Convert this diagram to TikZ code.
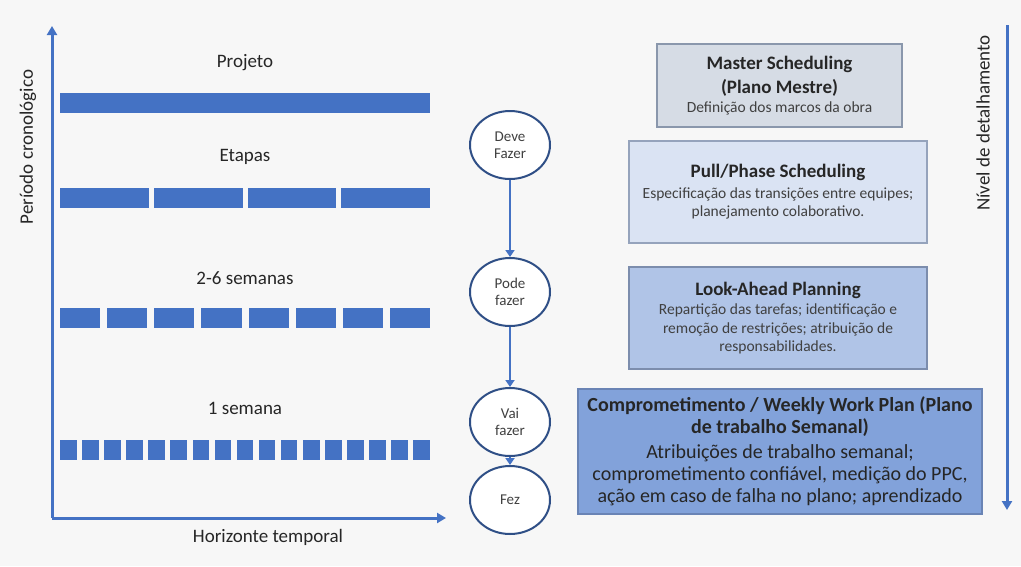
\documentclass[tikz,border=0pt]{standalone}
\usepackage{fontspec}
\setmainfont{Carlito}
\usetikzlibrary{arrows.meta,shapes.geometric}

\definecolor{bgcol}{HTML}{F7F7F7}
\definecolor{barblue}{HTML}{4472C4}
\definecolor{circblue}{HTML}{2F4F86}
\definecolor{labelgray}{HTML}{262626}
\definecolor{subgray}{HTML}{404040}
\definecolor{masterfill}{HTML}{D6DCE5}
\definecolor{masterline}{HTML}{8A97AC}
\definecolor{pullfill}{HTML}{DAE3F3}
\definecolor{pullline}{HTML}{95A3BC}
\definecolor{lookfill}{HTML}{B0C4E7}
\definecolor{lookline}{HTML}{7C8DAD}
\definecolor{weekfill}{HTML}{82A2DA}
\definecolor{weekline}{HTML}{6A84B5}

\newcommand{\boxhead}[1]{{\fontsize{19}{23}\selectfont\bfseries #1}}
\newcommand{\boxbody}[1]{{\color{subgray}#1}}

\begin{document}
\begin{tikzpicture}[x=1pt,y=-1pt,
  axis/.style={barblue, line width=3pt, -{Triangle[length=9pt,width=10pt]}},
  bar/.style={fill=barblue},
  lbl/.style={font=\fontsize{19}{22}\selectfont, text=labelgray},
  stage/.style={ellipse, draw=circblue, line width=2pt, fill=white,
    minimum width=80pt, minimum height=68pt, inner sep=0pt, align=center,
    font=\fontsize{15}{17}\selectfont, text=subgray},
  flow/.style={barblue, line width=2.5pt, -{Triangle[length=7pt,width=9pt]}},
  level/.style={draw, line width=1.3pt, align=center, inner sep=0pt, text=labelgray,
    font=\fontsize{15.5}{18.5}\selectfont}]

  % background
  \fill[bgcol] (0,0) rectangle (1021,566);

  % axes
  \coordinate (orig) at (52,518);
  \coordinate (ytip) at (52,26);
  \coordinate (xtip) at (446,518);
  \draw[axis] (orig) -- (ytip);
  \draw[axis] (orig) -- (xtip);
  \node[lbl, rotate=90] (periodo) at (28,147) {Período cronológico};
  \node[lbl] (horizonte) at (268,537) {Horizonte temporal};

  % horizons
  \node[lbl] (projeto) at (245,63) {Projeto};
  \node[lbl] (etapas) at (245,157) {Etapas};
  \node[lbl] (semanas) at (245,278) {2-6 semanas};
  \node[lbl] (semana) at (245,408) {1 semana};
  \foreach \n/\g/\ya in {1/0/93, 4/5/188, 8/7/308, 17/5.5/440} {
    \pgfmathsetmacro\w{(370-(\n-1)*\g)/\n}
    \foreach \i in {1,...,\n}
      \fill[bar] ({60+(\i-1)*(\w+\g)},\ya) rectangle ++(\w,20);
  }

  % commitment chain
  \node[stage] (deve) at (510,145) {Deve\\Fazer};
  \node[stage] (pode) at (510,292) {Pode\\fazer};
  \node[stage] (vai) at (510,422) {Vai\\fazer};
  \node[stage] (fez) at (510,500) {Fez};
  \draw[flow] (deve) -- (pode);
  \draw[flow] (pode) -- (vai);
  \draw[flow] (vai) -- (fez);

  % planning levels
  \node[level, fill=masterfill, draw=masterline, minimum width=245pt, minimum height=83pt]
    (master) at (779.5,85.5) {\boxhead{Master Scheduling}\\[6pt]\boxhead{(Plano Mestre)}\\
      \boxbody{Definição dos marcos da obra}};
  \node[level, fill=pullfill, draw=pullline, minimum width=298pt, minimum height=102pt]
    (pull) at (778,192) {\boxhead{Pull/Phase Scheduling}\\[2pt]
      \boxbody{Especificação das transições entre equipes;}\\
      \boxbody{planejamento colaborativo.}};
  \node[level, fill=lookfill, draw=lookline, minimum width=298pt, minimum height=102pt]
    (look) at (778,318) {\boxhead{Look-Ahead Planning}\\[1pt]
      \boxbody{Repartição das tarefas; identificação e}\\
      \boxbody{remoção de restrições; atribuição de}\\
      \boxbody{responsabilidades.}};
  \node[level, fill=weekfill, draw=weekline, minimum width=404pt, minimum height=125pt,
    font=\fontsize{20}{22}\selectfont]
    (week) at (780,451.5) {\textbf{Comprometimento / Weekly Work Plan (Plano}\\
      \textbf{de trabalho Semanal)}\\[3pt]
      Atribuições de trabalho semanal;\\
      comprometimento confiável, medição do PPC,\\
      ação em caso de falha no plano; aprendizado};

  % detail axis
  \coordinate (dtop) at (1007,25);
  \coordinate (dbot) at (1007,510);
  \draw[axis] (dtop) -- (dbot);
  \node[lbl, rotate=90] (nivel) at (983,123) {Nível de detalhamento};
\end{tikzpicture}
\end{document}
